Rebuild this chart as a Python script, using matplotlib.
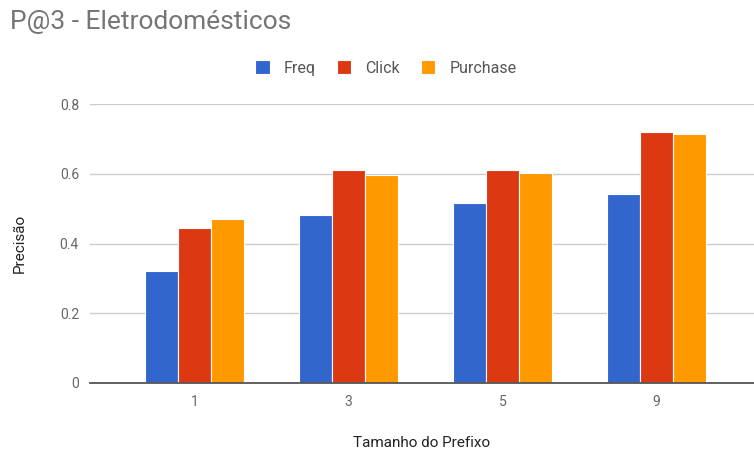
import matplotlib.pyplot as plt
import numpy as np

plt.rcParams['font.family'] = ['Roboto', 'DejaVu Sans']

# precision at 3 for each prefix size
prefixes = ['1', '3', '5', '9']
freq = [0.320, 0.481, 0.515, 0.543]
click = [0.445, 0.612, 0.612, 0.719]
purchase = [0.469, 0.596, 0.603, 0.715]

series = [('Freq', freq, '#3366cc'),
          ('Click', click, '#dc3912'),
          ('Purchase', purchase, '#ff9900')]

fig = plt.figure(figsize=(7.54, 4.53), dpi=100)
ax = fig.add_axes([90/754, 1 - 383/453, 1 - 90/754, (383 - 104)/453])

x = np.arange(len(prefixes))
w = 0.215
for i, (name, vals, color) in enumerate(series):
    ax.bar(x + (i - 1) * w, vals, w, color=color, label=name,
           edgecolor='white', linewidth=0.8, zorder=3)

ax.set_ylim(0, 0.8)
ax.set_xlim(-0.677, 3.632)
ax.set_yticks([0, 0.2, 0.4, 0.6, 0.8])
ax.set_yticklabels(['0', '0.2', '0.4', '0.6', '0.8'])
ax.set_xticks(x)
ax.set_xticklabels(prefixes)
ax.tick_params(length=0, labelsize=10, colors='#666666', pad=8)
ax.tick_params(axis='x', pad=9)
ax.grid(axis='y', color='#cccccc', linewidth=1, zorder=0)
for s in ['top', 'right', 'left']:
    ax.spines[s].set_visible(False)
ax.spines['bottom'].set_color('#555555')
ax.spines['bottom'].set_linewidth(1.3)
ax.spines['bottom'].set_zorder(4)

ax.set_ylabel('Precisão', fontsize=11, color='#222222')
ax.yaxis.set_label_coords(-(90 - 20) / (754 - 90), 0.5, transform=ax.transAxes)
ax.yaxis.label.set_va('center')
ax.set_xlabel('Tamanho do Prefixo', fontsize=11, color='#222222')
ax.xaxis.set_label_coords(0.5, -(443 - 383) / (383 - 104), transform=ax.transAxes)
ax.xaxis.label.set_va('center')

fig.text(10/754, 1 - 22/453, 'P@3 - Eletrodomésticos', fontsize=19,
         color='#757575', va='center', ha='left')

fig.legend(loc='center', bbox_to_anchor=(386/754, 1 - 68/453), ncol=3,
           frameon=False, fontsize=11.5, labelcolor='#555555',
           handlelength=0.9, handleheight=0.9, handletextpad=0.9,
           columnspacing=1.3)

fig.savefig('out.png', dpi=100)
